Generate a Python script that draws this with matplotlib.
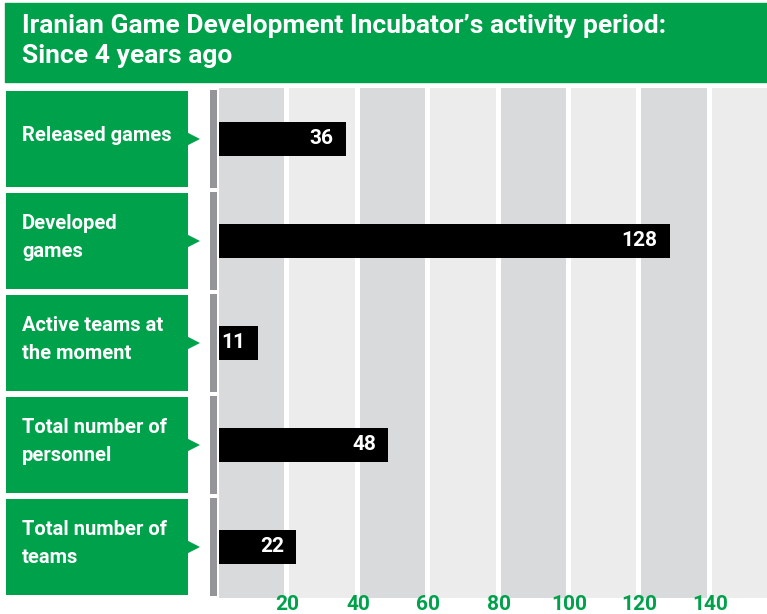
import matplotlib.pyplot as plt
from matplotlib.patches import Rectangle, Polygon

plt.rcParams['font.family'] = ['Roboto', 'DejaVu Sans']

title = "Iranian Game Development Incubator\u2019s activity period:\nSince 4 years ago"
labels = ["Released games", "Developed\ngames", "Active teams at\nthe moment",
          "Total number of\npersonnel", "Total number of\nteams"]
values = [36, 128, 11, 48, 22]
ticks = [20, 40, 60, 80, 100, 120, 140]

green = '#00a14b'
dark = '#d9dadc'
light = '#ececec'
axis_gray = '#939598'

W, H = 767, 614
fig = plt.figure(figsize=(W / 100, H / 100), dpi=100)

# title banner
fig.patches.append(Rectangle((5 / W, 1 - 82 / H), 1, 79 / H, transform=fig.transFigure,
                             color=green, zorder=0))
fig.text(22 / W, 1 - 41 / H, title, color='white', fontsize=19, fontweight='bold',
         va='center', ha='left', linespacing=1.3)

ppu = 3.52  # pixels per unit
top, bot = 88, 598
ax = fig.add_axes([200 / W, 1 - bot / H, (W - 200) / W, (bot - top) / H])
ax.set_xlim((200 - 219) / ppu, (W - 219) / ppu)
ax.set_ylim(len(values) - 0.5, -0.5)

# alternating bands
for k in range(8):
    ax.axvspan(20 * k, 20 * k + 18.6, color=dark if k % 2 == 0 else light, lw=0, zorder=0)

rows = list(range(len(values)))
g = 0.02
for i in rows:
    ax.add_patch(Rectangle(((210 - 219) / ppu, i - 0.5 + g), 7 / ppu, 1 - 2 * g,
                           color=axis_gray, lw=0))

ax.barh(rows, values, height=0.33, color='black', zorder=2)
for i, v in zip(rows, values):
    ax.text(v - 12 / ppu, i, str(v), ha='right', va='center', color='white',
            fontsize=15, fontweight='bold', zorder=3)

# x tick labels sit right at the bottom edge
ax.set_xticks([])
ybot = (bot - H) / (bot - top)
for t in ticks:
    ax.text(t - 0.5, ybot, str(t), transform=ax.get_xaxis_transform(), ha='center',
            va='bottom', color=green, fontsize=15, fontweight='bold', clip_on=False)
ax.set_yticks([])
for s in ax.spines.values():
    s.set_visible(False)

# left label boxes
axl = fig.add_axes([0, 1 - bot / H, 200 / W, (bot - top) / H])
axl.set_xlim(0, 200)
axl.set_ylim(len(values) - 0.5, -0.5)
axl.axis('off')
g2 = 0.025
for i, lab in zip(rows, labels):
    axl.add_patch(Rectangle((6, i - 0.5 + g2), 182, 1 - 2 * g2, color=green, lw=0))
    axl.add_patch(Polygon([(187, i - 0.065), (200, i), (187, i + 0.065)], closed=True,
                          color=green, lw=0, clip_on=False))
    axl.text(22, i - 0.03, lab, color='white', fontsize=14.5, fontweight='bold',
             ha='left', va='center', linespacing=1.6)

fig.savefig('out.png', dpi=100)
